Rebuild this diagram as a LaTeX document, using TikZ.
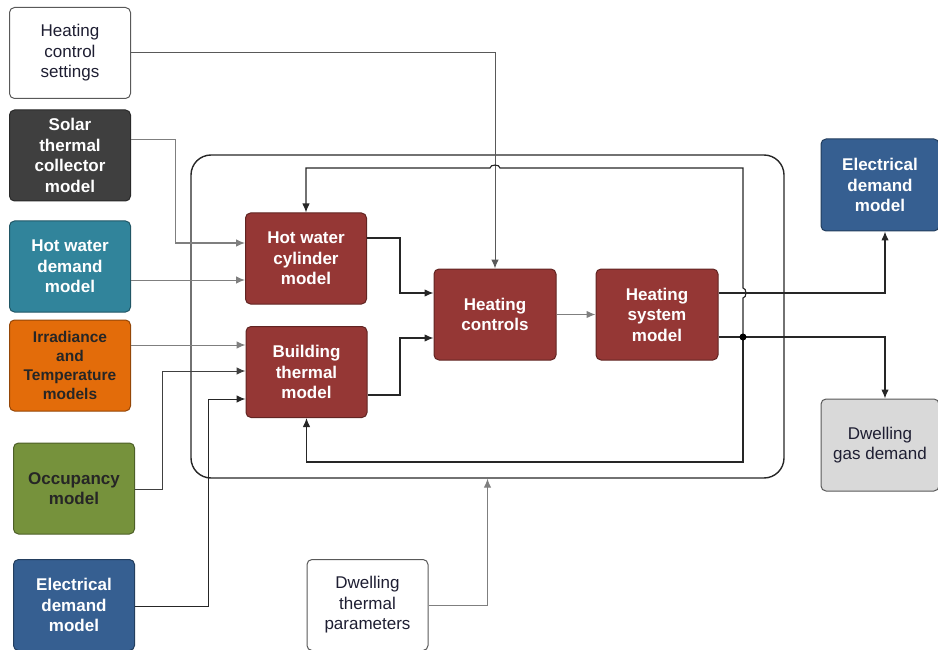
\documentclass[tikz,border=0pt]{standalone}
\usepackage{fontspec}
\setmainfont{Liberation Sans}
\usetikzlibrary{arrows.meta,calc}
\definecolor{heat}{HTML}{953735}
\definecolor{solarc}{HTML}{3F3F3F}
\definecolor{tealc}{HTML}{31849B}
\definecolor{orangec}{HTML}{E36C0A}
\definecolor{greenc}{HTML}{76923C}
\definecolor{bluec}{HTML}{365F91}
\definecolor{gasc}{HTML}{D9D9D9}
\definecolor{txtc}{HTML}{1E1E32}
\definecolor{inline}{HTML}{7F7F7F}
\begin{document}
\begin{tikzpicture}[x=1pt,y=-1pt,
  box/.style={rounded corners=5pt, minimum width=121pt, minimum height=91pt,
    align=center, inner sep=2pt, line width=1pt,
    font=\fontsize{17}{20.5}\selectfont},
  plainbox/.style={box, draw=gray!70!black, fill=white, text=txtc},
  colbox/.style={box, fill=#1, draw=#1!65!black, text=white,
    font=\fontsize{17}{20.5}\selectfont\bfseries},
  darkbox/.style={box, fill=#1, draw=#1!65!black, text=black!85,
    font=\fontsize{17}{20.5}\selectfont\bfseries},
  tip/.style={-{Latex[length=9pt,width=7.5pt]}},
  ext/.style={tip, draw=inline, line width=1pt},
  intl/.style={draw=black!85, line width=1.15pt},
]
\useasboundingbox (0,0) rectangle (938,650);

% system frame
\node[draw=black!85, line width=1.4pt, rounded corners=20pt,
  minimum width=593pt, minimum height=323pt] (sys) at (487.5,316.5) {};

% nodes
\node[plainbox] (hcs) at (70,53) {Heating\\control\\settings};
\node[colbox=solarc] (solar) at (70,155.5) {Solar\\thermal\\collector\\model};
\node[colbox=tealc] (hwd) at (70,266.5) {Hot water\\demand\\model};
\node[darkbox=orangec, font=\fontsize{15.5}{19}\selectfont\bfseries] (irr) at (70,365.5) {Irradiance\\and\\Temperature\\models};
\node[darkbox=greenc] (occ) at (74,488.5) {Occupancy\\model};
\node[colbox=bluec] (eleL) at (74,605) {Electrical\\demand\\model};

\node[colbox=heat] (hwc) at (306,258.5) {Hot water\\cylinder\\model};
\node[colbox=heat] (bld) at (306.5,372) {Building\\thermal\\model};
\node[colbox=heat, minimum width=122pt] (hc) at (495,314.5) {Heating\\controls};
\node[colbox=heat, minimum width=122pt] (hs) at (657,314.5) {Heating\\system\\model};

\node[colbox=bluec, minimum width=118pt, minimum height=92pt] (eleR) at (880,185) {Electrical\\demand\\model};
\node[plainbox, fill=gasc, minimum width=118pt, minimum height=92pt] (gas) at (880,445) {Dwelling\\gas demand};
\node[plainbox] (dtp) at (367.5,605) {Dwelling\\thermal\\parameters};

% external inputs
\draw[ext, draw=black!65] (hcs.east) -- (hc.north |- hcs.east) -- (hc.north);
\draw[ext] (solar.east |- 0,140) -| (175,243) -- (hwc.west |- 0,243);
\draw[ext] (hwd.east |- 0,280) -- (hwc.west |- 0,280);
\draw[ext] (irr.east |- 0,345) -- (bld.west |- 0,345);
\draw[ext, draw=black!75] (occ.east |- 0,489) -| (162,371) -- (bld.west |- 0,371);
\draw[ext, draw=black!85] (eleL.east |- 0,606) -| (208,399) -- (bld.west |- 0,399);
\draw[ext] (dtp.east) -| (sys.south);

% internal
\draw[intl, tip] (hwc.east |- 0,238) -| (400,293) -- (hc.west |- 0,293);
\draw[intl, tip] (bld.east |- 0,395) -| (400,338) -- (hc.west |- 0,338);
\draw[intl, tip, draw=inline] (hc.east) -- (hs.west);

\coordinate (dot) at (743,337);
\draw[intl, tip] (hs.east |- 0,293) -| ([xshift=5pt]eleR.south);
\draw[intl, tip] (hs.east |- 0,337) -| ([xshift=5pt]gas.north);
\draw[intl, tip] (dot) -- (743,298) to[out=0,in=0] (743,288) -- (743,168)
  -- (500,168) to[out=90,in=90] (490,168) -- (hwc.north |- 0,168) -- (hwc.north);
\draw[intl, tip] (dot) -- (743,462) -- (bld.south |- 0,462) -- (bld.south);
\fill[black] (dot) circle (3.5pt);
\end{tikzpicture}
\end{document}
